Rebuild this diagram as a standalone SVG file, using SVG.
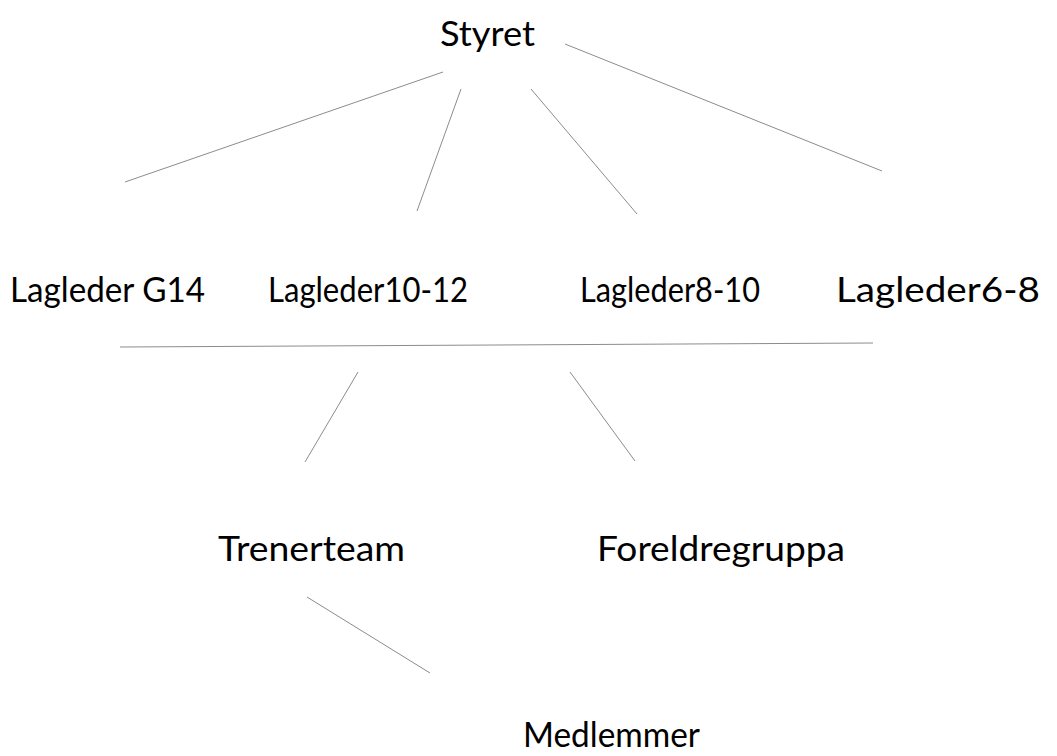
<svg xmlns="http://www.w3.org/2000/svg" width="1057" height="756" viewBox="0 0 1057 756">
<style>
.t{font-family:Lato,"Open Sans","Liberation Sans",sans-serif;font-size:34px;fill:#000}
.c line{stroke:#8c8c8c;stroke-width:1}
</style>
<rect width="1057" height="756" fill="#fff"/>
<g id="connectors" class="c">
<line x1="443" y1="72" x2="125" y2="182"/>
<line x1="461" y1="89" x2="417" y2="211"/>
<line x1="531" y1="89" x2="637" y2="214"/>
<line x1="565" y1="44" x2="882" y2="171"/>
<line x1="120" y1="347" x2="873" y2="343"/>
<line x1="358" y1="372" x2="305" y2="462"/>
<line x1="570" y1="372" x2="635" y2="461"/>
<line x1="307" y1="597" x2="430" y2="673"/>
</g>
<g id="styret"><text class="t" x="440" y="46" textLength="95" lengthAdjust="spacingAndGlyphs">Styret</text></g>
<g id="lagleder-g14"><text class="t" x="10" y="302" textLength="195" lengthAdjust="spacingAndGlyphs">Lagleder G14</text></g>
<g id="lagleder10-12"><text class="t" x="268" y="302" textLength="200" lengthAdjust="spacingAndGlyphs">Lagleder10-12</text></g>
<g id="lagleder8-10"><text class="t" x="580" y="302" textLength="180" lengthAdjust="spacingAndGlyphs">Lagleder8-10</text></g>
<g id="lagleder6-8"><text class="t" x="836" y="302" textLength="204" lengthAdjust="spacingAndGlyphs">Lagleder6-8</text></g>
<g id="trenerteam"><text class="t" x="218" y="561" textLength="187" lengthAdjust="spacingAndGlyphs">Trenerteam</text></g>
<g id="foreldregruppa"><text class="t" x="597" y="561" textLength="248" lengthAdjust="spacingAndGlyphs">Foreldregruppa</text></g>
<g id="medlemmer"><text class="t" x="523" y="747" textLength="177" lengthAdjust="spacingAndGlyphs">Medlemmer</text></g>
</svg>
